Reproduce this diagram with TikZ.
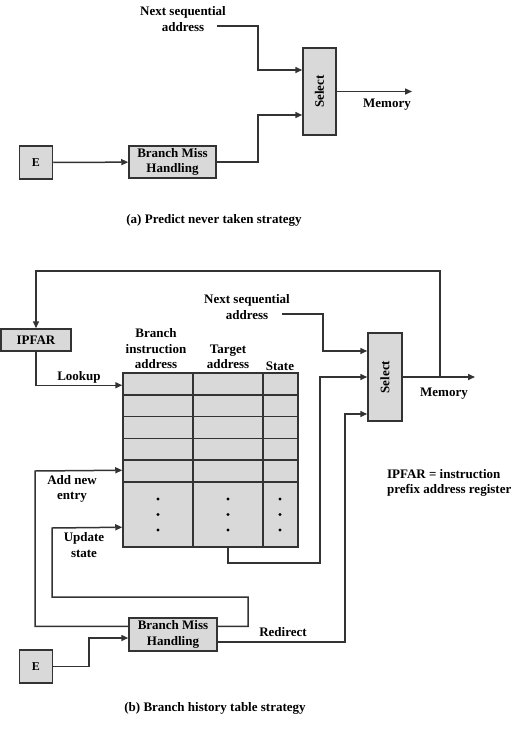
\documentclass[tikz,border=0pt]{standalone}
\usepackage{fontspec}
\setmainfont{Liberation Serif}
\usetikzlibrary{arrows.meta,positioning}

\begin{document}
\begin{tikzpicture}[x=1pt, y=-1pt, line width=1.5pt, draw=black!80,
		every node/.style={font=\bfseries\fontsize{13}{15.5}\selectfont},
		blk/.style={draw=black!80, fill=black!15, inner sep=0pt},
		lbl/.style={align=center},
		>={Triangle[length=7pt, width=6pt]}]
	\useasboundingbox (0,0) rectangle (528,755);

	% (a) predict never taken
	\node[blk, minimum width=33pt, minimum height=87pt] (selA) at (319.5, 91.5) {\rotatebox{90}{Select}};
	\node[blk, minimum width=87pt, minimum height=32pt, align=center] (bmhA) at (172.5, 162) {Branch Miss\\Handling};
	\node[blk, minimum size=33pt, font=\bfseries\fontsize{12}{14}\selectfont] (eA) at (36, 162.5) {E};
	\node[lbl] (nsaA) at (183, 19) {Next sequential\\address};
	\coordinate (nsA) at (217, 26);
	\coordinate (memA) at (412, 91.5);

	\draw[->]	(nsA) -| (258, 70) -- ([yshift=21.5pt]selA.west);
	\draw[->]	(bmhA.east) -| (258, 115) -- ([yshift=-23.5pt]selA.west);
	\draw[->]	(eA) -- (bmhA);
	\draw[->]	(selA) -- (memA);
	\node (memlA) at (387, 105) {Memory};

	\node (capA) at (214, 220) {(a) Predict never taken strategy};

	% (b) branch history table
	\node[blk, minimum width=70pt, minimum height=22pt] (ipfar) at (36, 340) {IPFAR};
	\node[blk, minimum width=175pt, minimum height=174pt] (bht) at (210.5, 460) {};
	\foreach \y in {394.8, 416.6, 438.4, 460.2, 482}
		\draw (123, \y) -- (298, \y);
	\foreach \x in {193, 263}
		\draw (\x, 373) -- (\x, 547);
	\foreach \x in {158, 228, 280}
		\foreach \y in {499, 514.5, 530}
			\fill[black] (\x, \y) circle (1.6pt);

	\node[lbl] (hbia) at (156, 349) {Branch\\instruction\\address};
	\node[lbl] (hta) at (228, 357) {Target\\address};
	\node (hst) at (280, 366) {State};

	\node[blk, minimum width=34pt, minimum height=88pt] (selB) at (385, 377) {\rotatebox{90}{Select}};
	\node[blk, minimum width=88pt, minimum height=33pt, align=center] (bmhB) at (173, 634.5) {Branch Miss\\Handling};
	\node[blk, minimum size=33pt, font=\bfseries\fontsize{12}{14}\selectfont] (eB) at (36, 666.5) {E};
	\node[lbl] (nsaB) at (247, 307) {Next sequential\\address};
	\coordinate (nsB) at (282, 314);
	\coordinate (memB) at (475, 377);
	\coordinate (tap) at (440, 377);

	\draw[->]	(selB) -- (memB);
	\draw[->]	(tap) |- (36, 271) -- (ipfar.north);
	\draw[->]	(nsB) -| (323, 351) -- ([yshift=26pt]selB.west);
	\draw[->]	(ipfar.south) |- ([yshift=-13pt]bht.north west);
	\draw[->]	([yshift=-9pt]bmhB.north west) -| (35, 471) -- ([yshift=-98pt]bht.north west);
	\draw[->]	([yshift=-9pt]bmhB.north east) -| (248, 597) -| (52, 528) -- ([yshift=-155pt]bht.north west);
	\draw[->]	([xshift=17.5pt]bht.south) |- (320, 563) |- (selB.west);
	\draw[->]	([yshift=10pt]bmhB.south east) -| (345, 414) -- ([yshift=-37pt]selB.west);
	\draw[->]	(eB.east) -| (89, 638) -- ([yshift=-3.5pt]bmhB.west);

	\node (lookup) at (79, 377) {Lookup};
	\node[lbl] (addnew) at (72, 489) {Add new\\entry};
	\node[lbl] (updst) at (84, 545) {Update\\state};
	\node (redir) at (283, 632) {Redirect};
	\node (memlB) at (444, 394) {Memory};
	\node[align=left, anchor=west] (ipfarkey) at (383, 483) {IPFAR = instruction\\prefix address register};

	\node (capB) at (215, 708) {(b) Branch history table strategy};
\end{tikzpicture}
\end{document}
